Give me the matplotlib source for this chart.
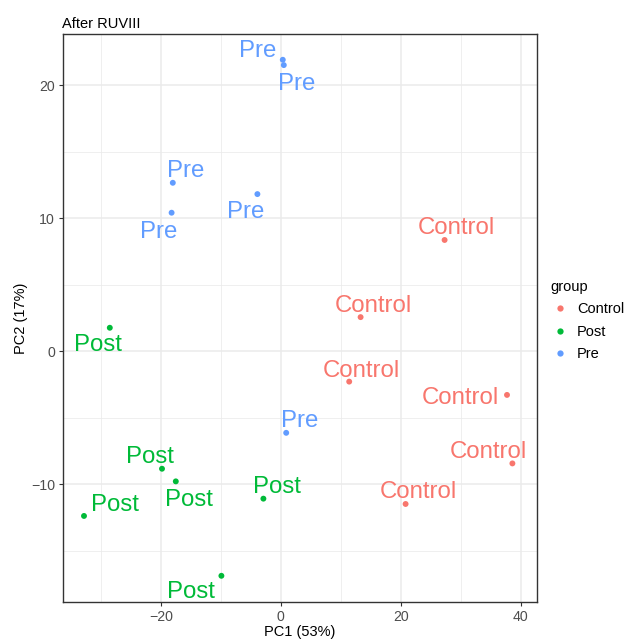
import numpy as np
import matplotlib
matplotlib.use("Agg")
import matplotlib.pyplot as plt
from matplotlib.lines import Line2D

plt.rcParams["font.family"] = ["Liberation Sans", "DejaVu Sans"]

# PCA scores after RUVIII, per group
groups = ["Control", "Post", "Pre"]
colors = {"Control": "#F8766D", "Post": "#00BA38", "Pre": "#619CFF"}

control_pc1 = [27.3, 13.3, 11.4, 37.7, 38.6, 20.8]
control_pc2 = [8.35, 2.55, -2.3, -3.3, -8.45, -11.5]
post_pc1 = [-28.5, -19.8, -17.5, -32.8, -2.9, -9.9]
post_pc2 = [1.75, -8.85, -9.8, -12.4, -11.1, -16.9]
pre_pc1 = [-18.0, -18.2, -3.9, 0.33, 0.5, 0.9]
pre_pc2 = [12.65, 10.4, 11.8, 21.9, 21.5, -6.15]

# repelled label offsets (pixels: dx right, dy down to baseline)
control_off = [(12, -6), (12.5, -5), (12.5, -5), (-47, 9), (-24, -5), (12.5, -6)]
post_off = [(-12, 23), (-12.5, -6), (13, 24.5), (31, -5), (13.5, -6), (-30, 22)]
pre_off = [(13, -5.5), (-12.5, 25), (-12, 24), (-25, -2.5), (12.5, 25), (13, -6)]

data = {
    "Control": (control_pc1, control_pc2, control_off),
    "Post": (post_pc1, post_pc2, post_off),
    "Pre": (pre_pc1, pre_pc2, pre_off),
}

W, H, DPI = 632, 639, 100
fig = plt.figure(figsize=(W / DPI, H / DPI), dpi=DPI)
ax = fig.add_axes([63 / W, 1 - 602 / H, (537 - 63) / W, (602 - 33.7) / H])

ax.set_xlim(-36.3, 42.7)
ax.set_ylim(-18.87, 23.86)
ax.set_xticks([-20, 0, 20, 40])
ax.set_xticks([-30, -10, 10, 30], minor=True)
ax.set_yticks([-10, 0, 10, 20])
ax.set_yticks([-15, -5, 5, 15], minor=True)
ax.set_xticklabels(["\u221220", "0", "20", "40"])
ax.set_yticklabels(["\u221210", "0", "10", "20"])
ax.grid(which="major", color="#EBEBEB", lw=1.1)
ax.grid(which="minor", color="#EBEBEB", lw=0.55)
ax.set_axisbelow(True)
ax.tick_params(which="major", length=3.2, width=0.8, color="#333333",
               labelsize=10.2, labelcolor="#4D4D4D", pad=2.5)
ax.tick_params(which="minor", length=0)
for sp in ax.spines.values():
    sp.set_color("#333333"); sp.set_linewidth(1.0)

for g in groups:
    xs, ys, offs = data[g]
    ax.scatter(xs, ys, s=18, c=colors[g], edgecolors="none", zorder=3)
    for x, y, (dx, dy) in zip(xs, ys, offs):
        ax.annotate(g, (x, y), xytext=(dx * 0.72, -dy * 0.72), textcoords="offset points",
                    ha="center", va="baseline", fontsize=17.3, color=colors[g], zorder=4)

ax.set_xlabel("PC1 (53%)", fontsize=10.5, color="black", labelpad=1.0)
ax.set_ylabel("PC2 (17%)", fontsize=10.5, color="black", labelpad=2.5)
ax.set_title("After RUVIII", loc="left", fontsize=10.5, pad=4, x=-0.002)

handles = [Line2D([], [], ls="none", marker="o", ms=4.5, mec="none", mfc=colors[g]) for g in groups]
leg = fig.legend(handles, groups, title="group", loc="upper left",
                 bbox_to_anchor=(545 / W, 1 - 274 / H), frameon=False,
                 fontsize=10.5, title_fontsize=10.5, handlelength=1.2,
                 handletextpad=0.6, labelspacing=0.58, borderaxespad=0)
leg._legend_box.align = "left"

fig.savefig("out.png", dpi=DPI)
